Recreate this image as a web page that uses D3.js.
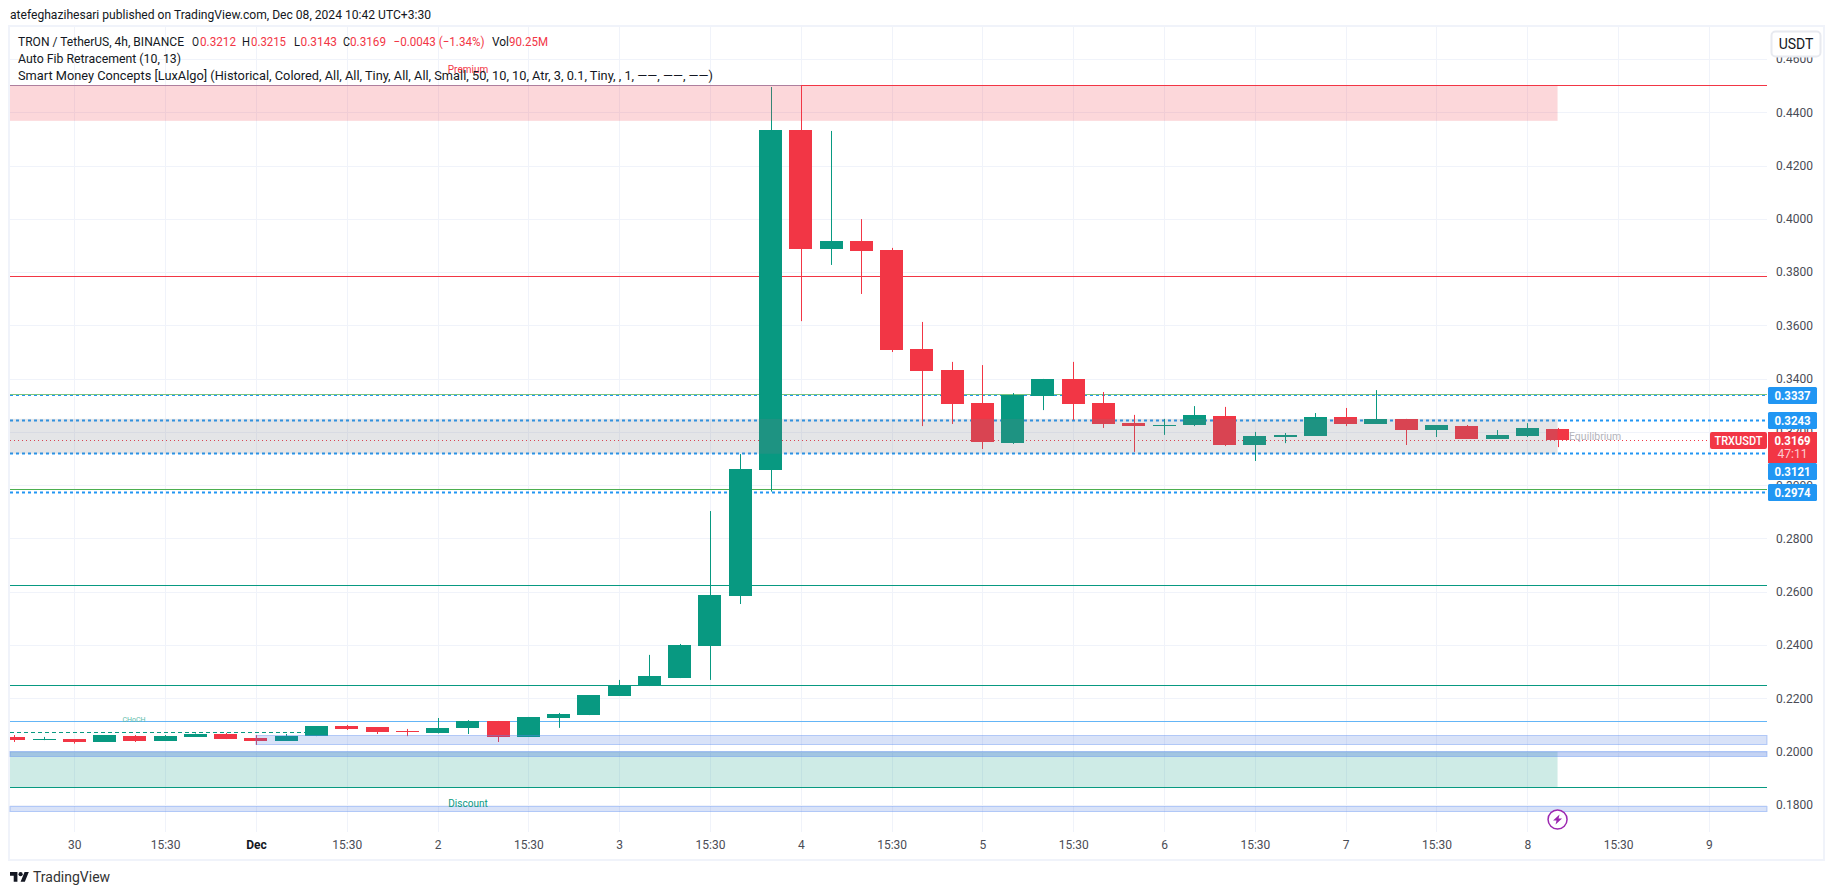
<!DOCTYPE html>
<head>
  <meta charset="utf-8">
  <title>TRXUSDT</title>
  <script src="https://cdn.jsdelivr.net/npm/d3@7"></script>
</head>

<style>
  body { margin: 0; background: #fff; }
  svg { display: block; }
  text { font-family: Roboto, sans-serif; }
  .axis-label text { font-size: 12px; fill: #4a4c55; }
  .axis-label .domain { display: none; }
  .legend { font-size: 13px; fill: #131722; }
  .tag { font-size: 12.5px; font-weight: bold; fill: #fff; text-anchor: middle; }
</style>

<body>
  <svg id='svg-chart' width='1835' height='895'></svg>
</body>

<script>

// candles, 4h bars, first one is two bars before the "30" tick
var first_bar = -2;
var opens  = [.2055,.2043,.2047,.2036,.2058,.2040,.2055,.2066,.2051,.2040,.2058,.2096,.2092,.2077,.2070,.2088,.2115,.2055,.2126,.2137,.2209,.2246,.2276,.2396,.2584,.3057,.4334,.3887,.3917,.3883,.3511,.3433,.3309,.3158,.3335,.3399,.3309,.3233,.3222,.3226,.3260,.3151,.3181,.3185,.3256,.3230,.3249,.3207,.3222,.3174,.3185,.3212];
var highs  = [.2062,.2055,.2047,.2062,.2062,.2062,.2068,.2070,.2062,.2066,.2096,.2100,.2092,.2085,.2126,.2118,.2115,.2130,.2145,.2212,.2269,.2363,.2404,.2903,.3117,.4495,.4501,.4330,.3999,.3891,.3613,.3463,.3451,.3346,.3399,.3463,.3350,.3264,.3249,.3297,.3294,.3200,.3196,.3271,.3290,.3357,.3249,.3226,.3226,.3207,.3233,.3215];
var lows   = [.2036,.2043,.2030,.2036,.2036,.2040,.2055,.2047,.2025,.2040,.2058,.2081,.2066,.2058,.2068,.2066,.2036,.2055,.2089,.2137,.2209,.2246,.2276,.2269,.2554,.2976,.3616,.3827,.3718,.3500,.3222,.3230,.3136,.3155,.3282,.3245,.3215,.3125,.3189,.3222,.3147,.3091,.3158,.3185,.3222,.3230,.3151,.3181,.3174,.3174,.3181,.3143];
var closes = [.2043,.2047,.2036,.2062,.2040,.2058,.2066,.2047,.2040,.2058,.2096,.2085,.2074,.2074,.2088,.2115,.2055,.2130,.2141,.2212,.2250,.2284,.2400,.2588,.3061,.4334,.3887,.3917,.3879,.3508,.3429,.3305,.3162,.3339,.3399,.3305,.3230,.3222,.3226,.3263,.3151,.3185,.3188,.3256,.3230,.3249,.3207,.3226,.3174,.3189,.3215,.3169];

var price_ticks = [.18,.20,.22,.24,.26,.28,.30,.32,.34,.36,.38,.40,.42,.44,.46];
var time_ticks = [0,3,6,9,12,15,18,21,24,27,30,33,36,39,42,45,48,51,54];
var time_labels = ['30','15:30','Dec','15:30','2','15:30','3','15:30','4','15:30','5','15:30','6','15:30','7','15:30','8','15:30','9'];

// auto fib levels
var fib_prices = [.4501,.3784,.3341,.2986,.2626,.2249,.1866];
var fib_colours = ['#f23645','#f23645','#7cc47f','#4caf50','#089981','#089981','#089981'];
var structure_price = .2116;
var choch_price = .2072;
var pivot_levels = [.3337,.3243,.3121,.2974];
var pivot_widths = [1,2,2,2];
var last_price = .3169;

// order blocks, all run to the right edge
var block_tops = [.2061,.2001,.1796];
var block_bottoms = [.2026,.1983,.1778];
var block_starts = [6, null, null];
var block_alpha = [.2,.3,.2];

var premium_zone = [.4501,.4368];
var equilibrium_zone = [.3249,.3118];
var discount_zone = [.2000,.1866];
var zone_end_bar = 49;
var high_line_end_bar = 24;

var margin = {left: 10, right: 1767, top: 27, bottom: 832};

var x = d3.scaleLinear().domain([0,54]).range([74.3,1708.9]);
var y = d3.scaleLinear().domain([.44,.22]).range([112.3,698.3]);

var up = '#089981', down = '#f23645', body_w = 23;
var bars = opens.map(function(d,i) {
  return {bar: first_bar+i, o: d, h: highs[i], l: lows[i], c: closes[i]};
});

var svg = d3.select('#svg-chart');

svg.append('clipPath').attr('id','plot-clip').append('rect')
  .attr('x',margin.left).attr('y',margin.top)
  .attr('width',margin.right-margin.left).attr('height',margin.bottom-margin.top);

// frame
svg.append('rect').attr('x',9).attr('y',26).attr('width',1815).attr('height',834)
  .attr('fill','none').attr('stroke','#f0f3fa').attr('stroke-width',2);

// grid
svg.append('g').selectAll('line').data(time_ticks).enter().append('line')
  .attr('x1',function(d){return Math.round(x(d))+.5;}).attr('x2',function(d){return Math.round(x(d))+.5;})
  .attr('y1',margin.top).attr('y2',margin.bottom).attr('stroke','#f0f3fa');
svg.append('g').selectAll('line').data(price_ticks).enter().append('line')
  .attr('y1',function(d){return Math.round(y(d))+.5;}).attr('y2',function(d){return Math.round(y(d))+.5;})
  .attr('x1',margin.left).attr('x2',margin.right).attr('stroke','#f0f3fa');

// lines that sit behind the candles
function hline(g, price, colour, width, dash, x2) {
  return g.append('line')
    .attr('x1',margin.left).attr('x2',x2 || margin.right)
    .attr('y1',Math.round(y(price))+.5).attr('y2',Math.round(y(price))+.5)
    .attr('stroke',colour).attr('stroke-width',width)
    .attr('stroke-dasharray',dash || null);
}
var lines = svg.append('g');
fib_prices.forEach(function(d,i) { hline(lines,d,fib_colours[i],1); });
hline(lines,fib_prices[0],'#a58aaa',1,null,x(high_line_end_bar));
hline(lines,structure_price,'#64b5f6',1);
hline(lines,choch_price,up,1,'4 3',x(8)-10);
pivot_levels.forEach(function(d,i) { hline(lines,d,'#2196f3',pivot_widths[i],'3 3'); });
hline(lines,last_price,down,1,'1 3');

// candles
var candles = svg.append('g').attr('clip-path','url(#plot-clip)').selectAll('g').data(bars).enter().append('g')
  .attr('fill',function(d){return d.c>=d.o?up:down;});
candles.append('rect')
  .attr('x',function(d){return Math.round(x(d.bar));}).attr('width',1)
  .attr('y',function(d){return y(d.h);}).attr('height',function(d){return y(d.l)-y(d.h);});
candles.append('rect')
  .attr('x',function(d){return Math.round(x(d.bar)-body_w/2);}).attr('width',body_w)
  .attr('y',function(d){return Math.round(y(Math.max(d.o,d.c)));})
  .attr('height',function(d){return Math.max(1,Math.round(Math.abs(y(d.o)-y(d.c))));});

// zones go over the candles, they are see-through
function zone(p, colour) {
  svg.append('rect').attr('x',margin.left).attr('width',x(zone_end_bar)-margin.left)
    .attr('y',y(p[0])).attr('height',y(p[1])-y(p[0])).attr('fill',colour);
}
zone(premium_zone,'rgba(242,54,69,.2)');
zone(equilibrium_zone,'rgba(120,123,134,.2)');
zone(discount_zone,'rgba(8,153,129,.2)');

block_tops.forEach(function(d,i) {
  var x0 = block_starts[i]==null ? margin.left : x(block_starts[i]);
  svg.append('rect').attr('x',x0).attr('width',margin.right-x0)
    .attr('y',Math.round(y(d))+.5).attr('height',Math.round(y(block_bottoms[i])-y(d)))
    .attr('fill','rgba(60,110,220,'+block_alpha[i]+')')
    .attr('stroke','rgba(90,140,240,.4)');
});

// labels on the chart
svg.append('text').attr('x',468).attr('y',73).attr('text-anchor','middle').attr('font-size',10).attr('fill',down).text('Premium');
svg.append('text').attr('x',468).attr('y',807).attr('text-anchor','middle').attr('font-size',10).attr('fill',up).text('Discount');
svg.append('text').attr('x',1569).attr('y',440).attr('font-size',10.5).attr('fill','#b4b5bb').text('Equilibrium');
svg.append('text').attr('x',134).attr('y',722).attr('text-anchor','middle').attr('font-size',7).attr('fill','#5cbcaa').text('CHoCH');

// axes
svg.append('g').attr('class','axis-label').attr('transform','translate(1770,0)')
  .call(d3.axisRight(y).tickValues(price_ticks).tickFormat(d3.format('.4f')).tickSize(0).tickPadding(6));
svg.append('g').attr('class','axis-label').attr('transform','translate(0,832)')
  .call(d3.axisBottom(x).tickValues(time_ticks).tickFormat(function(d,i){return time_labels[i];}).tickSize(0).tickPadding(8))
  .selectAll('text')
  .style('fill',function(d){return d==6?'#131722':null;})
  .style('font-weight',function(d){return d==6?'bold':null;});

// price tags on the axis, the one under the last price gets pushed down
var last_y = Math.round(y(last_price));
function tag_text(x_mid, yy, label, w) {
  return svg.append('text').attr('class','tag').attr('x',x_mid).attr('y',yy)
    .attr('textLength',w).attr('lengthAdjust','spacingAndGlyphs').text(label);
}
pivot_levels.forEach(function(d) {
  var yy = Math.round(y(d));
  if (yy > last_y && yy-8 < last_y+23) yy = last_y+31;
  svg.append('rect').attr('x',1768).attr('y',yy-8).attr('width',49).attr('height',17).attr('rx',1.5).attr('fill','#2196f3');
  tag_text(1792.5,yy+4.5,d3.format('.4f')(d),36);
});
svg.append('rect').attr('x',1768).attr('y',last_y-8).attr('width',49).attr('height',31).attr('fill',down);
tag_text(1792.5,last_y+4.5,d3.format('.4f')(last_price),36);
tag_text(1792.5,last_y+18,'47:11',30).attr('fill-opacity',.75).style('font-weight','normal');
svg.append('rect').attr('x',1710).attr('y',last_y-8).attr('width',57).attr('height',17).attr('rx',2).attr('fill',down);
tag_text(1738.5,last_y+4.5,'TRXUSDT',48).style('font-weight',500);

// currency button
svg.append('rect').attr('x',1771.5).attr('y',31.5).attr('width',49).attr('height',25).attr('rx',4).attr('fill','#fff').attr('stroke','#e8eaf0').attr('stroke-width',2);
svg.append('text').attr('x',1796).attr('y',49).attr('text-anchor','middle').attr('font-size',14).attr('fill','#131722').text('USDT');

// lightning mark
var bolt = svg.append('g').attr('transform','translate('+x(49)+',819.5)');
bolt.append('circle').attr('r',9.5).attr('fill','#fff').attr('stroke','#9c27b0').attr('stroke-width',1.5);
bolt.append('path').attr('d','M2 -5 L-4.5 1 L-1 1 L-2 5 L4.5 -1 L1 -1 Z').attr('fill','#9c27b0');

// header + legend, squeezed to the widths in the picture
svg.append('text').attr('x',10).attr('y',19).attr('font-size',13).attr('fill','#131722')
  .attr('textLength',421).attr('lengthAdjust','spacingAndGlyphs')
  .text('atefeghazihesari published on TradingView.com, Dec 08, 2024 10:42 UTC+3:30');

var legend_parts = [[18,166,'TRON / TetherUS, 4h, BINANCE','#131722'],[192,7,'O','#131722'],[200,36,'0.3212',down],[242,8,'H','#131722'],[251,35,'0.3215',down],[294,6,'L','#131722'],[300.5,36.5,'0.3143',down],[343,7,'C','#131722'],[350,36,'0.3169',down],[393.5,91,'\u22120.0043 (\u22121.34%)',down],[492,17,'Vol','#131722'],[509,39,'90.25M',down]];
legend_parts.forEach(function(d) {
  svg.append('text').attr('class','legend').attr('x',d[0]).attr('y',46)
    .attr('textLength',d[1]).attr('lengthAdjust','spacingAndGlyphs')
    .style('fill',d[3]).text(d[2]);
});
svg.append('text').attr('class','legend').attr('x',18).attr('y',63)
  .attr('textLength',163).attr('lengthAdjust','spacingAndGlyphs').text('Auto Fib Retracement (10, 13)');
svg.append('text').attr('class','legend').attr('x',18).attr('y',80)
  .attr('textLength',695).attr('lengthAdjust','spacingAndGlyphs')
  .text('Smart Money Concepts [LuxAlgo] (Historical, Colored, All, All, Tiny, All, All, Small, 50, 10, 10, Atr, 3, 0.1, Tiny, , 1, \u2014\u2014, \u2014\u2014, \u2014\u2014)');

// logo
var logo = svg.append('g').attr('transform','translate(10,870) scale(.53)').attr('fill','#131722');
logo.append('path').attr('d','M14 22H7V11H0V4h14v18zM28 22h-8l7.5-18h8L28 22z');
logo.append('circle').attr('cx',20).attr('cy',8).attr('r',4);
svg.append('text').attr('x',33).attr('y',882).attr('font-size',14).attr('fill','#333').text('TradingView');

</script>
